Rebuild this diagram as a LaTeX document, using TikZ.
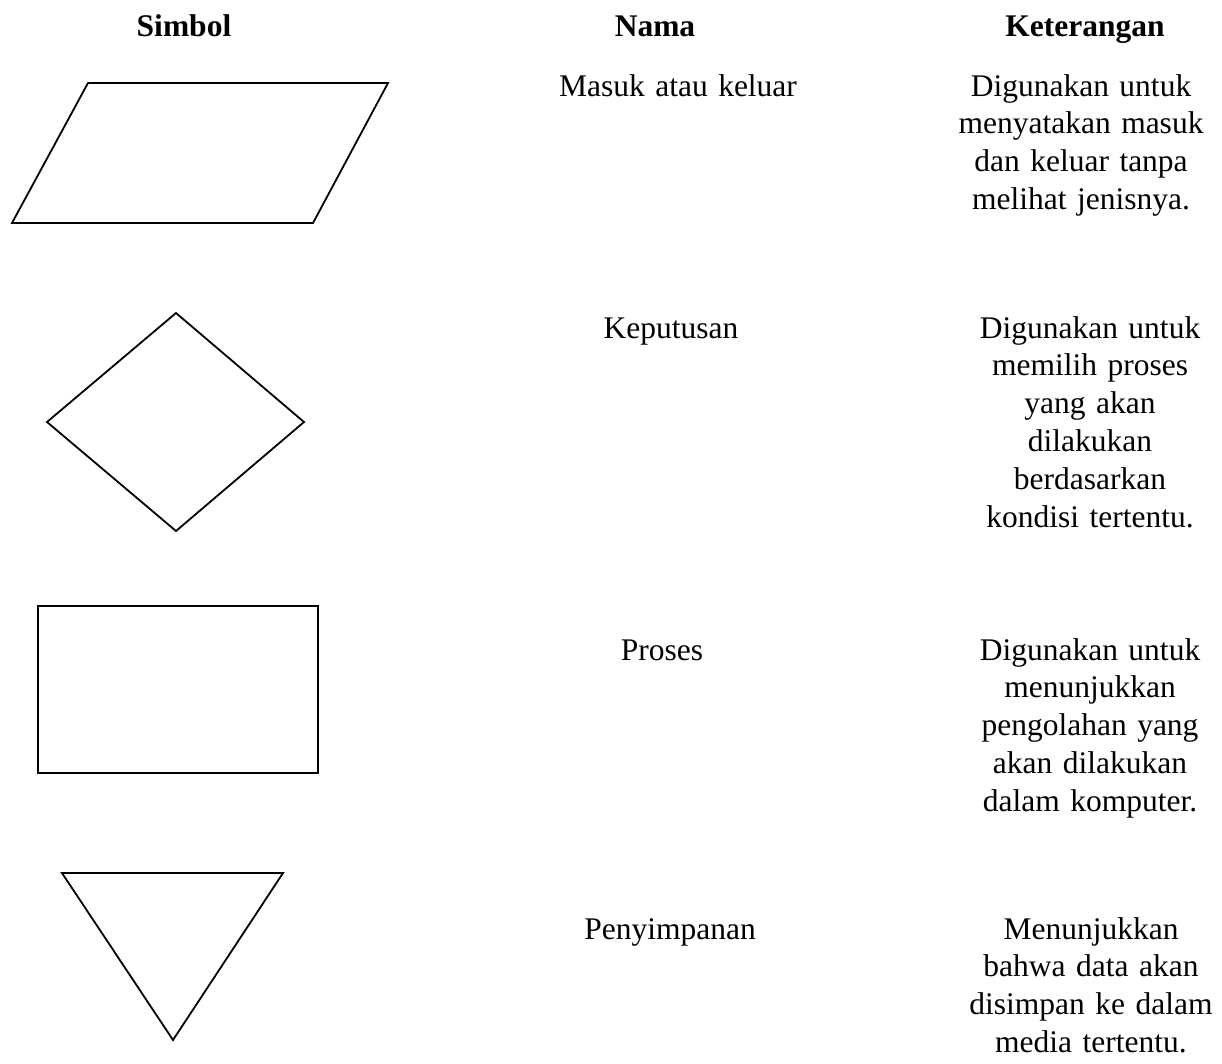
\documentclass[tikz,border=0pt]{standalone}
\usepackage{fontspec}
\setmainfont{Liberation Serif}
\begin{document}
\begin{tikzpicture}[x=1pt,y=-1pt,
  symb/.style={draw=black,line width=1.8pt,line join=miter},
  txt/.style={anchor=base,inner sep=0pt,text width=330pt,align=center,font=\fontsize{31.5}{37.8}\selectfont},
  hdr/.style={txt,font=\fontsize{31.5}{37.8}\selectfont\bfseries}]
\useasboundingbox (0,0) rectangle (1222,1063);
% headers
\node[hdr] (h1) at (184,36) {Simbol};
\node[hdr] (h2) at (655,36) {Nama};
\node[hdr] (h3) at (1085,36) {Keterangan};
% symbols
\draw[symb] (88,83) -- (388,83) -- (313,223) -- (12,223) -- cycle;
\draw[symb] (176,313) -- (304,422) -- (176,531) -- (47,422) -- cycle;
\draw[symb] (38,606) rectangle (318,773);
\draw[symb] (62,873) -- (283,873) -- (173,1040) -- cycle;
% names
\node[txt] (n1) at (678,96) {Masuk atau keluar};
\node[txt] (n2) at (671,338) {Keputusan};
\node[txt] (n3) at (662,660) {Proses};
\node[txt] (n4) at (670,939) {Penyimpanan};
% descriptions
\node[txt] (d1) at (1081,96) {Digunakan untuk\\menyatakan masuk\\dan keluar tanpa\\melihat jenisnya.};
\node[txt] (d2) at (1090,338) {Digunakan untuk\\memilih proses\\yang akan\\dilakukan\\berdasarkan\\kondisi tertentu.};
\node[txt] (d3) at (1090,660) {Digunakan untuk\\menunjukkan\\pengolahan yang\\akan dilakukan\\dalam komputer.};
\node[txt] (d4) at (1091,939) {Menunjukkan\\bahwa data akan\\disimpan ke dalam\\media tertentu.};
\end{tikzpicture}
\end{document}
